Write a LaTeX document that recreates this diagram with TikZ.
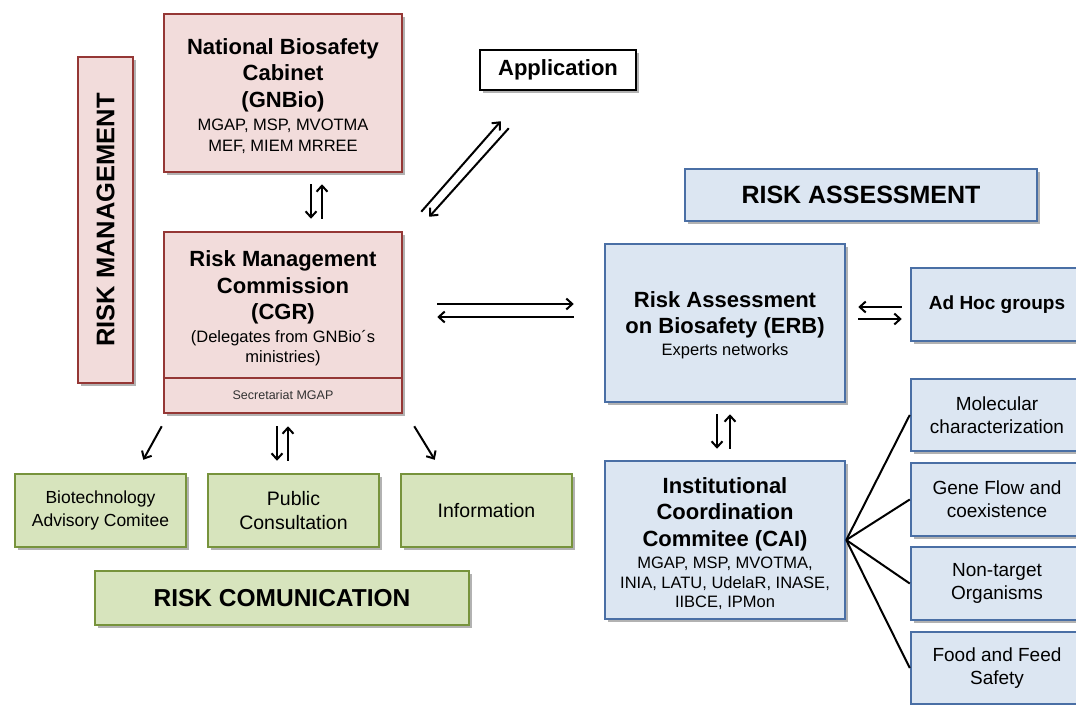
\documentclass[tikz,border=0pt]{standalone}
\usepackage{fontspec}
\setmainfont{Liberation Sans}
\usetikzlibrary{arrows.meta,shadows}
\definecolor{redfill}{HTML}{F2DCDB}
\definecolor{redline}{HTML}{953735}
\definecolor{bluefill}{HTML}{DCE6F2}
\definecolor{blueline}{HTML}{4A6FA5}
\definecolor{greenfill}{HTML}{D7E4BD}
\definecolor{greenline}{HTML}{77933C}
\newcommand{\ftitle}{\fontsize{22}{26.5}\selectfont\bfseries}
\newcommand{\fsub}{\fontsize{16.5}{20.5}\selectfont\mdseries}
\begin{document}
\begin{tikzpicture}[x=1pt,y=-1pt,
 box/.style={draw,line width=2.5pt,inner sep=0pt,align=center,
   drop shadow={shadow xshift=2.5pt,shadow yshift=-3pt,opacity=0.3,fill=black}},
 redbox/.style={box,fill=redfill,draw=redline},
 bluebox/.style={box,fill=bluefill,draw=blueline},
 greenbox/.style={box,fill=greenfill,draw=greenline,font=\fontsize{19.5}{23.5}\selectfont},
 sidebox/.style={bluebox,minimum width=172pt,font=\fontsize{19}{23}\selectfont},
 arr/.style={line width=2pt,-{Straight Barb[length=6pt,width=11pt]}},
 plain/.style={line width=2pt},
 txt/.style={align=center,inner sep=0pt}
]
\useasboundingbox (0,0) rectangle (1076,704);
\clip (0,0) rectangle (1076,704);

% Risk management
\node[redbox,minimum width=55pt,minimum height=326pt] (rm) at (105.5,220) {};
\node[txt,rotate=90,font=\fontsize{25.5}{30}\selectfont\bfseries] (rmt) at (rm.center) {RISK MANAGEMENT};

\node[redbox,minimum width=238pt,minimum height=158pt] (gnbio) at (283,93) {};
\node[txt,font=\ftitle] (gnbiot) at ([yshift=-3pt]gnbio.center)
 {National Biosafety\\Cabinet\\(GNBio)\\[-3.5pt]\fsub MGAP, MSP, MVOTMA\\[-5.5pt]\fsub MEF, MIEM MRREE};

\node[box,fill=white,draw=black,minimum width=156pt,minimum height=40pt,font=\ftitle] (app) at (558,70) {Application};

\node[redbox,minimum width=238pt,minimum height=181pt] (cgr) at (283,322.5) {};
\draw[redline,line width=2.5pt] (cgr.west |- 0,378) -- (cgr.east |- 0,378);
\node[txt,font=\ftitle] (cgrt) at (283,308)
 {Risk Management\\Commission\\(CGR)\\[-4pt]\fsub (Delegates from GNBio\textasciiacute s\\[-6.5pt]\fsub ministries)};
\node[txt,font=\fontsize{12.5}{15}\selectfont,text=black!80] (sec) at (283,395.5) {Secretariat MGAP};

% Risk assessment
\node[bluebox,minimum width=352pt,minimum height=52pt,font=\fontsize{25}{30}\selectfont\bfseries] (ra) at (861,195) {RISK ASSESSMENT};
\node[bluebox,minimum width=240pt,minimum height=158pt] (erb) at (725,323) {};
\node[txt,font=\ftitle] (erbt) at ([yshift=-2pt]erb.center)
 {Risk Assessment\\on Biosafety (ERB)\\[-5pt]\fsub Experts networks};
\node[sidebox,minimum height=73pt,font=\fontsize{19}{23}\selectfont\bfseries] (adhoc) at (997,304.5) {Ad Hoc groups};
\node[bluebox,minimum width=240pt,minimum height=158pt] (cai) at (725,540) {};
\node[txt,font=\ftitle] (cait) at ([yshift=-3.5pt]cai.center)
 {Institutional\\Coordination\\Commitee (CAI)\\[-4pt]\fsub MGAP, MSP, MVOTMA,\\[-7pt]\fsub INIA, LATU, UdelaR, INASE,\\[-7pt]\fsub IIBCE, IPMon};
\node[sidebox,minimum height=72pt] (mol) at (997,415) {Molecular\\characterization};
\node[sidebox,minimum height=73pt] (gene) at (997,499.5) {Gene Flow and\\coexistence};
\node[sidebox,minimum height=73pt] (nont) at (997,583.5) {Non-target\\Organisms};
\node[sidebox,minimum height=72pt] (food) at (997,668) {Food and Feed\\Safety};

% Risk communication
\node[greenbox,minimum width=171pt,minimum height=73pt,font=\fontsize{17.5}{23}\selectfont] (bio) at (100.5,510.5) {Biotechnology\\Advisory Comitee};
\node[greenbox,minimum width=171pt,minimum height=73pt] (pub) at (293.5,510.5) {Public\\Consultation};
\node[greenbox,minimum width=171pt,minimum height=73pt] (info) at (486.5,510.5) {Information};
\node[greenbox,minimum width=374pt,minimum height=54pt,font=\fontsize{24.5}{29}\selectfont\bfseries] (rc) at (282,598) {RISK COMUNICATION};

% connectors
\draw[arr] ([shift={(28,11)}]gnbio.south) -- ([shift={(28,-12)}]cgr.north);
\draw[arr] ([shift={(39,-12)}]cgr.north) -- ([shift={(39,11)}]gnbio.south);

\draw[arr] ([shift={(18,-19)}]cgr.north east) -- ([shift={(22,30)}]app.south west);
\draw[arr] ([shift={(30,37)}]app.south west) -- ([shift={(26,-14)}]cgr.north east);

\draw[arr] ([shift={(34,-18.5)}]cgr.east) -- ([shift={(-30,-19)}]erb.west);
\draw[arr] ([shift={(-30,-6)}]erb.west) -- ([shift={(34,-5.5)}]cgr.east);

\draw[arr] ([shift={(-8,2.5)}]adhoc.west) -- ([shift={(12,-16)}]erb.east);
\draw[arr] ([shift={(12,-4)}]erb.east) -- ([shift={(-8,14.5)}]adhoc.west);

\draw[arr] ([shift={(-8,11)}]erb.south) -- ([shift={(-8,-11)}]cai.north);
\draw[arr] ([shift={(5,-11)}]cai.north) -- ([shift={(5,11)}]erb.south);

\draw[arr] ([shift={(-1,12)}]cgr.south west) -- ([shift={(-44,-13)}]bio.north east);
\draw[arr] ([shift={(-6,12)}]cgr.south) -- ([shift={(-16.5,-12)}]pub.north);
\draw[arr] ([shift={(-5.5,-12)}]pub.north) -- ([shift={(5,12)}]cgr.south);
\draw[arr] ([shift={(11,12)}]cgr.south east) -- ([shift={(35,-13)}]info.north west);

\draw[plain] (cai.east) -- (mol.west);
\draw[plain] (cai.east) -- (gene.west);
\draw[plain] (cai.east) -- (nont.west);
\draw[plain] (cai.east) -- (food.west);
\end{tikzpicture}
\end{document}
